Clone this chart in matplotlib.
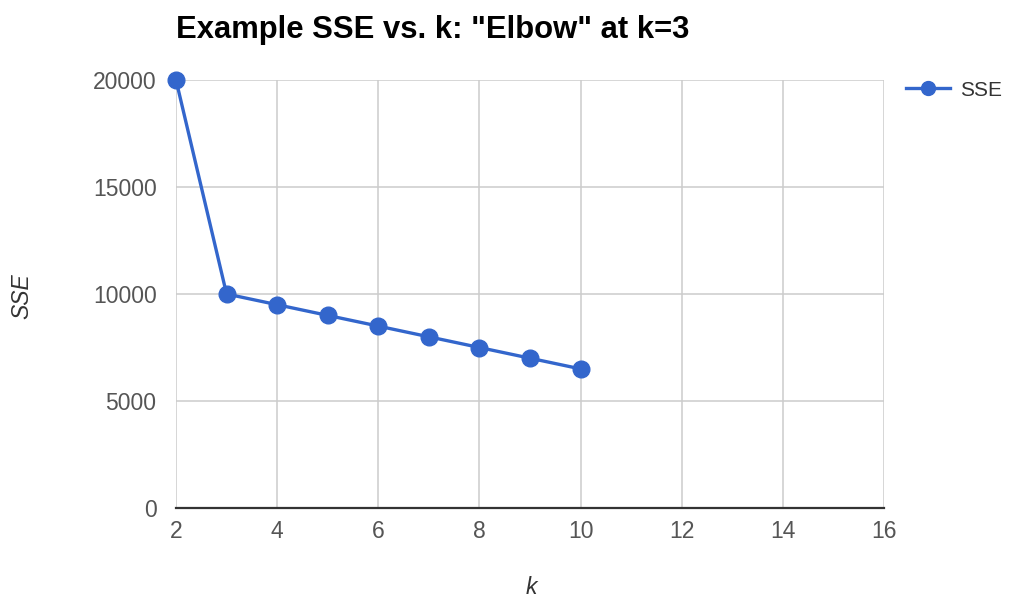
import matplotlib.pyplot as plt
from matplotlib.lines import Line2D

plt.rcParams['font.family'] = ['Liberation Sans', 'DejaVu Sans']

k = [2, 3, 4, 5, 6, 7, 8, 9, 10]
sse = [20000, 10000, 9500, 9000, 8500, 8000, 7500, 7000, 6500]
x_ticks = [2, 4, 6, 8, 10, 12, 14, 16]
y_ticks = [0, 5000, 10000, 15000, 20000]

blue = '#3366cc'
W, H = 1011, 601

fig = plt.figure(figsize=(W / 100, H / 100), dpi=100)
ax = fig.add_axes([176 / W, 93 / H, 708 / W, 428 / H])

ax.plot(k, sse, color=blue, linewidth=2.4, marker='o', markersize=12,
        clip_on=False, zorder=3)

ax.set_xlim(2, 16)
ax.set_ylim(0, 20000)
ax.set_xticks(x_ticks)
ax.set_yticks(y_ticks)
ax.grid(True, color='#cccccc', linewidth=1.1)
ax.set_axisbelow(True)
for s in ['top', 'left', 'right']:
    ax.spines[s].set_visible(False)
ax.spines['bottom'].set_color('#333333')
ax.spines['bottom'].set_linewidth(1.6)
ax.spines['bottom'].set_zorder(2)
ax.tick_params(length=0, labelsize=16.5, colors='#555555')
ax.tick_params(axis='x', pad=9)
ax.tick_params(axis='y', pad=14)

# axis titles placed directly in pixel positions
fig.text(531 / W, 1 - 588 / H, 'k', fontstyle='italic', fontsize=16.5,
         color='#333333', ha='center', va='center')
fig.text(22 / W, 1 - 296 / H, 'SSE', fontstyle='italic', fontsize=16.5,
         color='#333333', ha='center', va='center', rotation=90)

fig.text(176 / W, 1 - 38 / H, 'Example SSE vs. k: "Elbow" at k=3',
         fontsize=22.3, fontweight='bold', color='black', va='baseline', ha='left')

handle = Line2D([], [], color=blue, linewidth=2.4, marker='o', markersize=10)
fig.legend([handle], ['SSE'], loc='center left', bbox_to_anchor=(906 / W, 1 - 90 / H),
           frameon=False, fontsize=15, handlelength=2.1, handletextpad=0.5,
           labelcolor='#333333', borderaxespad=0, borderpad=0)

fig.savefig('out.png', dpi=100)
